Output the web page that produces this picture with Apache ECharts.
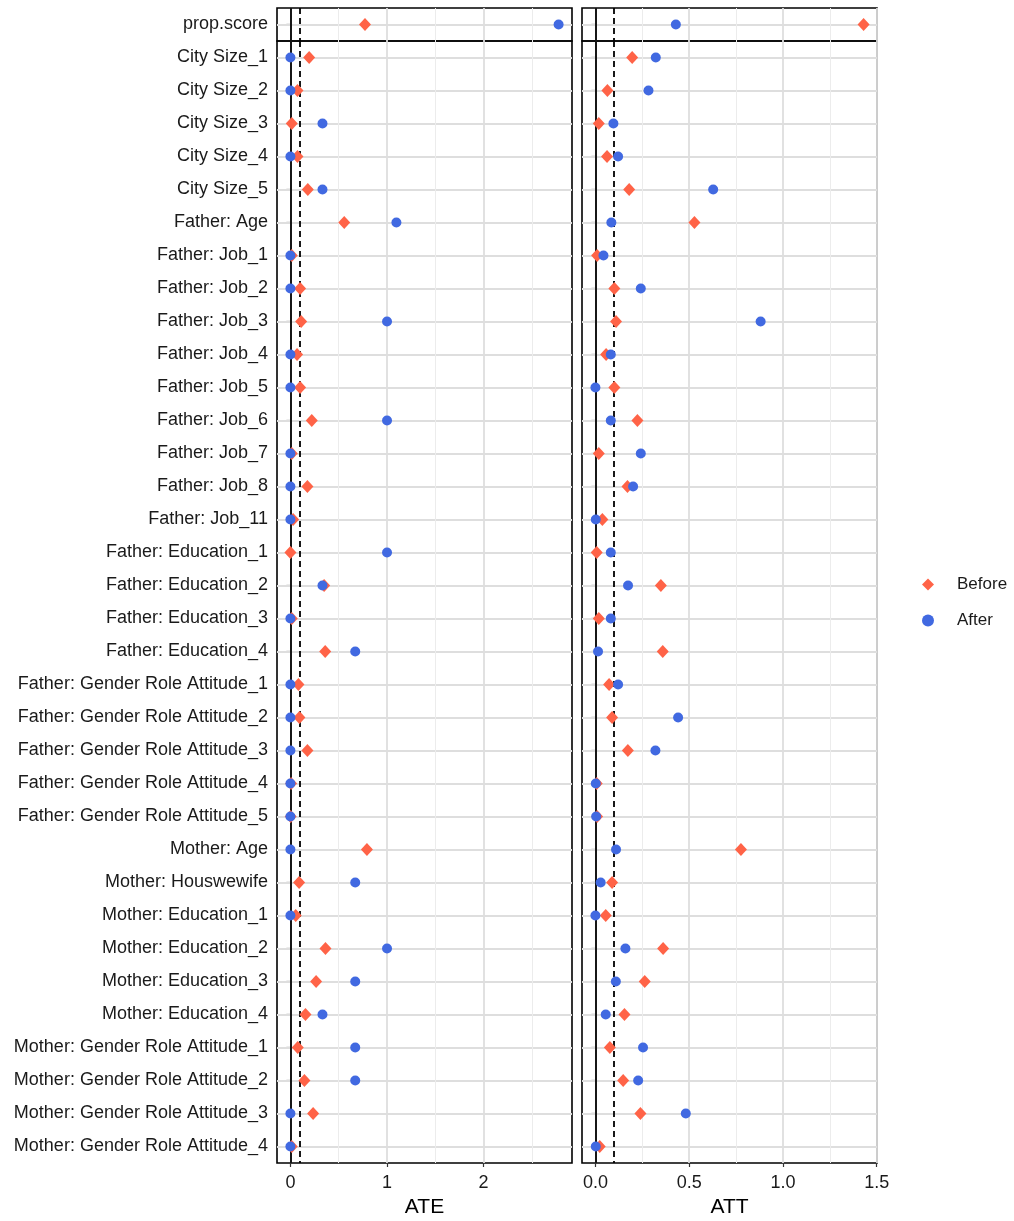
<!DOCTYPE html>
<html>
<head>
<meta charset="utf-8">
<script src="https://cdn.jsdelivr.net/npm/echarts@6/dist/echarts.min.js"></script>
<style>html,body{margin:0;padding:0;background:#fff}#c{width:1014px;height:1221px}</style>
</head>
<body>
<div id="c"></div>
<script>
const topCategory = ['prop.score'];
const categories = [
  'City Size_1','City Size_2','City Size_3','City Size_4','City Size_5',
  'Father: Age',
  'Father: Job_1','Father: Job_2','Father: Job_3','Father: Job_4','Father: Job_5','Father: Job_6','Father: Job_7','Father: Job_8','Father: Job_11',
  'Father: Education_1','Father: Education_2','Father: Education_3','Father: Education_4',
  'Father: Gender Role Attitude_1','Father: Gender Role Attitude_2','Father: Gender Role Attitude_3','Father: Gender Role Attitude_4','Father: Gender Role Attitude_5',
  'Mother: Age','Mother: Houswewife',
  'Mother: Education_1','Mother: Education_2','Mother: Education_3','Mother: Education_4',
  'Mother: Gender Role Attitude_1','Mother: Gender Role Attitude_2','Mother: Gender Role Attitude_3','Mother: Gender Role Attitude_4'
];
// prop.score values: [ATE, ATT]
const propScoreBefore = [0.772, 1.430];
const propScoreAfter  = [2.776, 0.429];

const ateBefore = [0.194,0.073,0.014,0.073,0.180, 0.557,
  0.014,0.100,0.111,0.069,0.100,0.221,0.014,0.176,0.028,
  0.000,0.349,0.014,0.360,
  0.083,0.093,0.176,0.007,0.003,
  0.792,0.090,
  0.055,0.363,0.266,0.156,
  0.076,0.145,0.235,0.014];
const ateAfter = [0.000,0.000,0.332,0.000,0.332, 1.097,
  0.000,0.000,1.000,0.000,0.000,1.000,0.000,0.000,0.000,
  1.000,0.332,0.000,0.671,
  0.000,0.000,0.000,0.000,0.000,
  0.000,0.671,
  0.000,1.000,0.671,0.332,
  0.671,0.671,0.000,0.000];
const attBefore = [0.196,0.064,0.018,0.062,0.180, 0.528,
  0.009,0.101,0.110,0.057,0.101,0.224,0.018,0.171,0.037,
  0.007,0.349,0.018,0.359,
  0.073,0.089,0.173,0.007,0.009,
  0.776,0.089,
  0.055,0.361,0.263,0.155,
  0.077,0.148,0.240,0.023];
const attAfter = [0.322,0.283,0.096,0.121,0.628, 0.085,
  0.043,0.242,0.881,0.082,0.000,0.082,0.242,0.201,0.002,
  0.082,0.174,0.082,0.014,
  0.121,0.441,0.320,0.002,0.004,
  0.110,0.028,
  0.000,0.160,0.109,0.055,
  0.254,0.228,0.482,0.002];

const ateTicks = [0, 1, 2];
const ateMinor = [0.5, 1.5, 2.5];
const attTicks = [0, 0.5, 1, 1.5];
const attMinor = [0.25, 0.75, 1.25];
const threshold = 0.1;
const panelNames = ['ATE', 'ATT'];

const colBefore = '#FF6347', colAfter = '#4169E1';
const FONT = 'Liberation Sans, Arial, Helvetica, sans-serif';

function range(arr) {
  const lo = Math.min(...arr), hi = Math.max(...arr);
  const pad = 0.05 * (hi - lo);
  return [lo - pad, hi + pad];
}
const ateRange = range(ateBefore.concat(ateAfter, [propScoreBefore[0], propScoreAfter[0]]));
const attRange = range(attBefore.concat(attAfter, [propScoreBefore[1], propScoreAfter[1]]));

const panelW = 295, leftX = [277, 582], topY = 8, rowH = 33;
const grids = [], xAxes = [], yAxes = [], series = [];

function addPanel(col, isTop) {
  const idx = grids.length;
  const cats = isTop ? topCategory : categories;
  grids.push({
    left: leftX[col], width: panelW,
    top: isTop ? topY : topY + rowH,
    height: cats.length * rowH,
    show: true, borderColor: '#000', borderWidth: 1.6, backgroundColor: 'transparent',
    containLabel: false, outerBoundsMode: 'none'
  });
  const rng = col === 0 ? ateRange : attRange;
  const ticks = col === 0 ? ateTicks : attTicks;
  const minor = col === 0 ? ateMinor : attMinor;
  xAxes.push({
    type: 'value', gridIndex: idx, min: rng[0], max: rng[1],
    axisLine: { show: false },
    splitLine: { show: false },
    axisTick: isTop ? { show: false } : { show: true, customValues: ticks, length: 4, lineStyle: { color: '#333', width: 1.2 } },
    axisLabel: isTop ? { show: false } : {
      show: true, customValues: ticks, margin: 11, showMaxLabel: true,
      color: '#1a1a1a', fontSize: 18, fontFamily: FONT,
      formatter: v => col === 0 ? String(Math.round(v)) : v.toFixed(1)
    },
    name: isTop ? '' : panelNames[col],
    nameLocation: 'middle', nameGap: 34,
    nameTextStyle: { color: '#000', fontSize: 21, fontFamily: FONT }
  });
  yAxes.push({
    type: 'category', gridIndex: idx, data: cats, inverse: true,
    axisLine: { show: false },
    splitLine: { show: false },
    axisTick: { show: true, alignWithLabel: true, length: 4, lineStyle: { color: '#333', width: 1.2 } },
    axisLabel: { show: col === 0, margin: 9, color: '#1a1a1a', fontSize: 18, fontFamily: FONT, interval: 0 }
  });
  const lineData = [];
  cats.forEach(c => lineData.push({ yAxis: c, lineStyle: { color: '#dedede', width: 1.8, type: 'solid' } }));
  ticks.forEach(t => lineData.push({ xAxis: t, lineStyle: { color: '#dedede', width: 1.8, type: 'solid' } }));
  minor.forEach(t => lineData.push({ xAxis: t, lineStyle: { color: '#ececec', width: 1.0, type: 'solid' } }));
  series.push({
    type: 'scatter', xAxisIndex: idx, yAxisIndex: idx, data: [], z: 1, silent: true,
    markLine: { silent: true, z: 1, symbol: ['none', 'none'], label: { show: false }, animation: false,
      emphasis: { disabled: true }, data: lineData }
  });
  series.push({
    type: 'scatter', xAxisIndex: idx, yAxisIndex: idx, data: [], z: 2, silent: true,
    markLine: { silent: true, z: 2, symbol: ['none', 'none'], label: { show: false }, animation: false,
      emphasis: { disabled: true },
      data: [
        { xAxis: 0, lineStyle: { color: '#000', width: 1.8, type: 'solid' } },
        { xAxis: threshold, lineStyle: { color: '#000', width: 1.8, type: [6, 4] } }
      ] }
  });
  const before = isTop ? [propScoreBefore[col]] : (col === 0 ? ateBefore : attBefore);
  const after = isTop ? [propScoreAfter[col]] : (col === 0 ? ateAfter : attAfter);
  series.push({
    name: 'Before', type: 'scatter', xAxisIndex: idx, yAxisIndex: idx, z: 3,
    symbol: 'diamond', symbolSize: [12, 13],
    itemStyle: { color: colBefore, opacity: 1 },
    data: before.map((v, i) => [v, cats[i]])
  });
  series.push({
    name: 'After', type: 'scatter', xAxisIndex: idx, yAxisIndex: idx, z: 4,
    symbol: 'circle', symbolSize: 10,
    itemStyle: { color: colAfter, opacity: 1 },
    data: after.map((v, i) => [v, cats[i]])
  });
}
addPanel(0, true);
addPanel(1, true);
addPanel(0, false);
addPanel(1, false);

const chart = echarts.init(document.getElementById('c'), null, { renderer: 'canvas' });
chart.setOption({
  animation: false,
  backgroundColor: '#fff',
  grid: grids, xAxis: xAxes, yAxis: yAxes, series: series,
  legend: {
    data: [{ name: 'Before', icon: 'diamond' }, { name: 'After', icon: 'circle' }],
    orient: 'vertical', left: 917, top: 571, itemWidth: 12, itemHeight: 12, itemGap: 19,
    selectedMode: false,
    textStyle: { color: '#1a1a1a', fontSize: 17, fontFamily: FONT, padding: [0, 0, 0, 18] }
  }
});
</script>
</body>
</html>
